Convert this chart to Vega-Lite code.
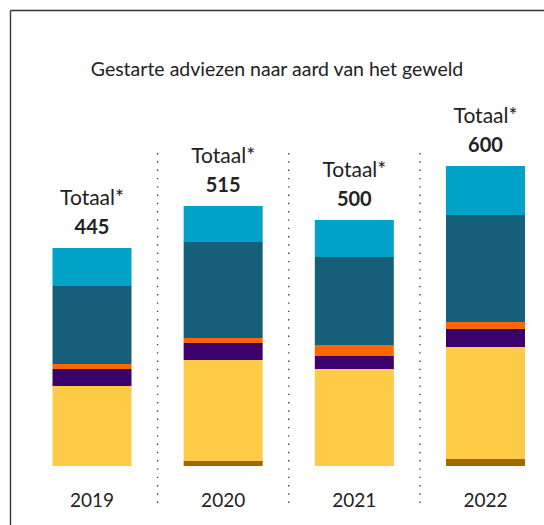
{
  "$schema": "https://vega.github.io/schema/vega-lite/v6.json",
  "width": 534,
  "height": 515,
  "autosize": {"type": "none"},
  "padding": {"left": 10, "top": 10, "right": 0, "bottom": 0},
  "background": "white",
  "config": {
    "view": {"stroke": null},
    "font": "Lato",
    "text": {"font": "Lato", "color": "#222222"}
  },
  "title": {
    "text": "Gestarte adviezen naar aard van het geweld",
    "font": "Lato",
    "fontSize": 19.5,
    "fontWeight": "normal",
    "color": "#222222",
    "anchor": "middle",
    "frame": "group",
    "offset": -79,
    "baseline": "middle"
  },
  "datasets": {
    "segmenten": [
      {"jaar": 2019, "aard": "a Overig", "waarde": 0},
      {"jaar": 2019, "aard": "b Lichamelijk geweld", "waarde": 160},
      {"jaar": 2019, "aard": "c Seksueel geweld", "waarde": 34},
      {"jaar": 2019, "aard": "d Verwaarlozing", "waarde": 10},
      {"jaar": 2019, "aard": "e Psychisch geweld", "waarde": 156},
      {"jaar": 2019, "aard": "f Getuige van geweld", "waarde": 76},
      {"jaar": 2020, "aard": "a Overig", "waarde": 10},
      {"jaar": 2020, "aard": "b Lichamelijk geweld", "waarde": 202},
      {"jaar": 2020, "aard": "c Seksueel geweld", "waarde": 34},
      {"jaar": 2020, "aard": "d Verwaarlozing", "waarde": 10},
      {"jaar": 2020, "aard": "e Psychisch geweld", "waarde": 192},
      {"jaar": 2020, "aard": "f Getuige van geweld", "waarde": 72},
      {"jaar": 2021, "aard": "a Overig", "waarde": 0},
      {"jaar": 2021, "aard": "b Lichamelijk geweld", "waarde": 194},
      {"jaar": 2021, "aard": "c Seksueel geweld", "waarde": 26},
      {"jaar": 2021, "aard": "d Verwaarlozing", "waarde": 22},
      {"jaar": 2021, "aard": "e Psychisch geweld", "waarde": 176},
      {"jaar": 2021, "aard": "f Getuige van geweld", "waarde": 74},
      {"jaar": 2022, "aard": "a Overig", "waarde": 14},
      {"jaar": 2022, "aard": "b Lichamelijk geweld", "waarde": 224},
      {"jaar": 2022, "aard": "c Seksueel geweld", "waarde": 36},
      {"jaar": 2022, "aard": "d Verwaarlozing", "waarde": 14},
      {"jaar": 2022, "aard": "e Psychisch geweld", "waarde": 214},
      {"jaar": 2022, "aard": "f Getuige van geweld", "waarde": 98}
    ],
    "totalen": [
      {"jaar": 2019, "totaal": 445},
      {"jaar": 2020, "totaal": 515},
      {"jaar": 2021, "totaal": 500},
      {"jaar": 2022, "totaal": 600}
    ],
    "grenzen": [
      {"grens": 2019.5},
      {"grens": 2020.5},
      {"grens": 2021.5}
    ]
  },
  "layer": [
    {
      "data": {"name": "grenzen"},
      "mark": {"type": "rule", "color": "#444444", "strokeWidth": 1.4, "strokeDash": [1.4, 6.9]},
      "encoding": {
        "x": {"field": "grens", "type": "quantitative"},
        "y": {"datum": 626},
        "y2": {"datum": -82}
      }
    },
    {
      "data": {"name": "segmenten"},
      "mark": {"type": "bar", "width": 79},
      "encoding": {
        "x": {
          "field": "jaar",
          "type": "quantitative",
          "scale": {"domain": [2018.413, 2022.408], "nice": false, "zero": false},
          "axis": {"orient": "top", "labels": false, "ticks": false, "grid": false, "title": null, "domain": true, "domainColor": "#333333", "domainWidth": 1.4}
        },
        "y": {
          "field": "waarde",
          "type": "quantitative",
          "stack": "zero",
          "scale": {"domain": [-118, 912], "nice": false, "zero": false},
          "axis": {"labels": false, "ticks": false, "grid": false, "title": null, "domain": true, "domainColor": "#333333", "domainWidth": 1.4}
        },
        "color": {
          "field": "aard",
          "type": "nominal",
          "scale": {
            "domain": ["a Overig", "b Lichamelijk geweld", "c Seksueel geweld", "d Verwaarlozing", "e Psychisch geweld", "f Getuige van geweld"],
            "range": ["#A36800", "#FECB47", "#3A006C", "#FF6600", "#155F7A", "#00A2C8"]
          },
          "legend": null
        },
        "order": {"field": "aard", "sort": "ascending"}
      }
    },
    {
      "data": {"name": "segmenten"},
      "transform": [
        {"aggregate": [{"op": "sum", "field": "waarde", "as": "top"}], "groupby": ["jaar"]}
      ],
      "mark": {"type": "text", "fontSize": 21, "baseline": "middle", "align": "center", "dy": -49},
      "encoding": {
        "x": {"field": "jaar", "type": "quantitative"},
        "y": {"field": "top", "type": "quantitative"},
        "text": {"value": "Totaal*"}
      }
    },
    {
      "data": {"name": "segmenten"},
      "transform": [
        {"aggregate": [{"op": "sum", "field": "waarde", "as": "top"}], "groupby": ["jaar"]},
        {"lookup": "jaar", "from": {"data": {"name": "totalen"}, "key": "jaar", "fields": ["totaal"]}}
      ],
      "mark": {"type": "text", "fontSize": 20, "fontWeight": "bold", "baseline": "middle", "align": "center", "dy": -20},
      "encoding": {
        "x": {"field": "jaar", "type": "quantitative"},
        "y": {"field": "top", "type": "quantitative"},
        "text": {"field": "totaal", "type": "quantitative"}
      }
    },
    {
      "data": {"name": "totalen"},
      "mark": {"type": "text", "fontSize": 19, "baseline": "middle", "align": "center"},
      "encoding": {
        "x": {"field": "jaar", "type": "quantitative"},
        "y": {"datum": -70},
        "text": {"field": "jaar", "type": "nominal"}
      }
    }
  ]
}
